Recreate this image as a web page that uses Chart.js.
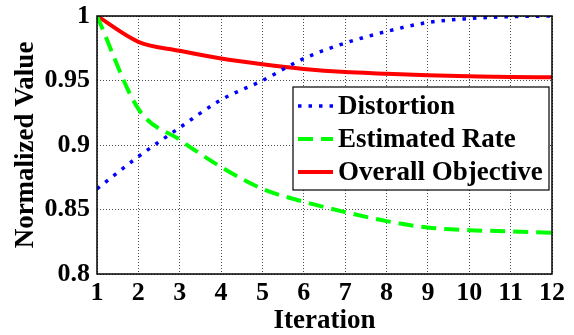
<!DOCTYPE html>
<html>
<head>
<meta charset="utf-8">
<script src="https://cdn.jsdelivr.net/npm/chart.js@4/dist/chart.umd.min.js"></script>
<style>
  html, body { margin: 0; padding: 0; background: #fff; }
  #wrap { width: 574px; height: 335px; }
</style>
</head>
<body>
<div id="wrap"><canvas id="chart"></canvas></div>
<script>
// values
var iterations = [1, 2, 3, 4, 5, 6, 7, 8, 9, 10, 11, 12]
var distortion = [0.866, 0.891, 0.9135, 0.935, 0.950, 0.967, 0.979, 0.988, 0.995, 0.998, 0.9995, 1.0]
var estimatedRate = [1.0, 0.928, 0.904, 0.883, 0.866, 0.856, 0.848, 0.841, 0.836, 0.834, 0.833, 0.832]
var overallObjective = [1.0, 0.980, 0.973, 0.967, 0.9626, 0.959, 0.9566, 0.9553, 0.954, 0.9533, 0.9527, 0.9525]
var yTickLabels = ['0.8', '0.85', '0.9', '0.95', '1']
var seriesNames = ['Distortion', 'Estimated Rate', 'Overall Objective']

const FONT = '"Liberation Serif", "Times New Roman", serif'

function toPoints(values) {
  return values.map((v, i) => ({ x: iterations[i], y: v }))
}

// frame + legend box (matlab style)
const frameAndLegend = {
  id: 'frameAndLegend',
  afterDatasetsDraw(chart) {
    const ctx = chart.ctx
    const a = chart.chartArea
    ctx.save()
    ctx.strokeStyle = '#000'
    ctx.lineWidth = 1.5
    ctx.strokeRect(a.left, a.top, a.right - a.left, a.bottom - a.top)

    // legend
    const bx = a.right - 259, by = a.top + 71, bw = 256, bh = 103
    ctx.fillStyle = '#fff'
    ctx.fillRect(bx, by, bw, bh)
    ctx.lineWidth = 1.2
    ctx.strokeRect(bx, by, bw, bh)
    ctx.font = 'bold 27px ' + FONT
    ctx.textBaseline = 'middle'
    ctx.textAlign = 'left'
    chart.data.datasets.forEach((ds, i) => {
      const cy = by + 19 + i * 33
      ctx.beginPath()
      ctx.strokeStyle = ds.borderColor
      ctx.lineWidth = ds.borderWidth
      ctx.setLineDash(ds.borderDash || [])
      ctx.moveTo(bx + 5, cy)
      ctx.lineTo(bx + 40, cy)
      ctx.stroke()
      ctx.setLineDash([])
      ctx.fillStyle = '#000'
      ctx.fillText(ds.label, bx + 45, cy + 1)
    })
    ctx.restore()
  }
}

new Chart(document.getElementById('chart'), {
  type: 'line',
  data: {
    datasets: [
      {
        label: seriesNames[0],
        data: toPoints(distortion),
        borderColor: '#0000ff',
        borderWidth: 3.5,
        borderDash: [3.5, 7],
        pointRadius: 0,
        cubicInterpolationMode: 'monotone'
      },
      {
        label: seriesNames[1],
        data: toPoints(estimatedRate),
        borderColor: '#00ff00',
        borderWidth: 4,
        borderDash: [15, 8],
        pointRadius: 0,
        cubicInterpolationMode: 'monotone'
      },
      {
        label: seriesNames[2],
        data: toPoints(overallObjective),
        borderColor: '#ff0000',
        borderWidth: 4,
        pointRadius: 0,
        cubicInterpolationMode: 'monotone'
      }
    ]
  },
  options: {
    responsive: true,
    maintainAspectRatio: false,
    animation: false,
    layout: { padding: { top: 16, right: 22, left: 0, bottom: 0 } },
    plugins: {
      legend: { display: false },
      tooltip: { enabled: false }
    },
    scales: {
      x: {
        type: 'linear',
        min: 1,
        max: 12,
        afterFit: (scale) => { scale.height = 61; scale.paddingLeft = 0; scale.paddingRight = 0 },
        ticks: {
          stepSize: 1,
          padding: 4,
          color: '#000',
          font: { family: FONT, size: 26, weight: 'bold' }
        },
        grid: { color: '#000', lineWidth: 0.7, drawTicks: false },
        border: { display: false, dash: [1, 2] },
        title: {
          display: true,
          text: 'Iteration',
          color: '#000',
          font: { family: FONT, size: 27, weight: 'bold', lineHeight: 1.05 },
          padding: { top: 0, bottom: 0 }
        }
      },
      y: {
        min: 0.8,
        max: 1,
        afterFit: (scale) => { scale.width = 97; scale.paddingTop = 0; scale.paddingBottom = 0 },
        ticks: {
          stepSize: 0.05,
          padding: 7,
          color: '#000',
          font: { family: FONT, size: 26, weight: 'bold' },
          callback: (v) => yTickLabels[Math.round((v - 0.8) / 0.05)]
        },
        grid: { color: '#000', lineWidth: 0.7, drawTicks: false },
        border: { display: false, dash: [1, 2] },
        title: {
          display: true,
          text: 'Normalized Value',
          color: '#000',
          font: { family: FONT, size: 27, weight: 'bold' },
          padding: { top: 10, bottom: 0 }
        }
      }
    }
  },
  plugins: [frameAndLegend]
})
</script>
</body>
</html>
